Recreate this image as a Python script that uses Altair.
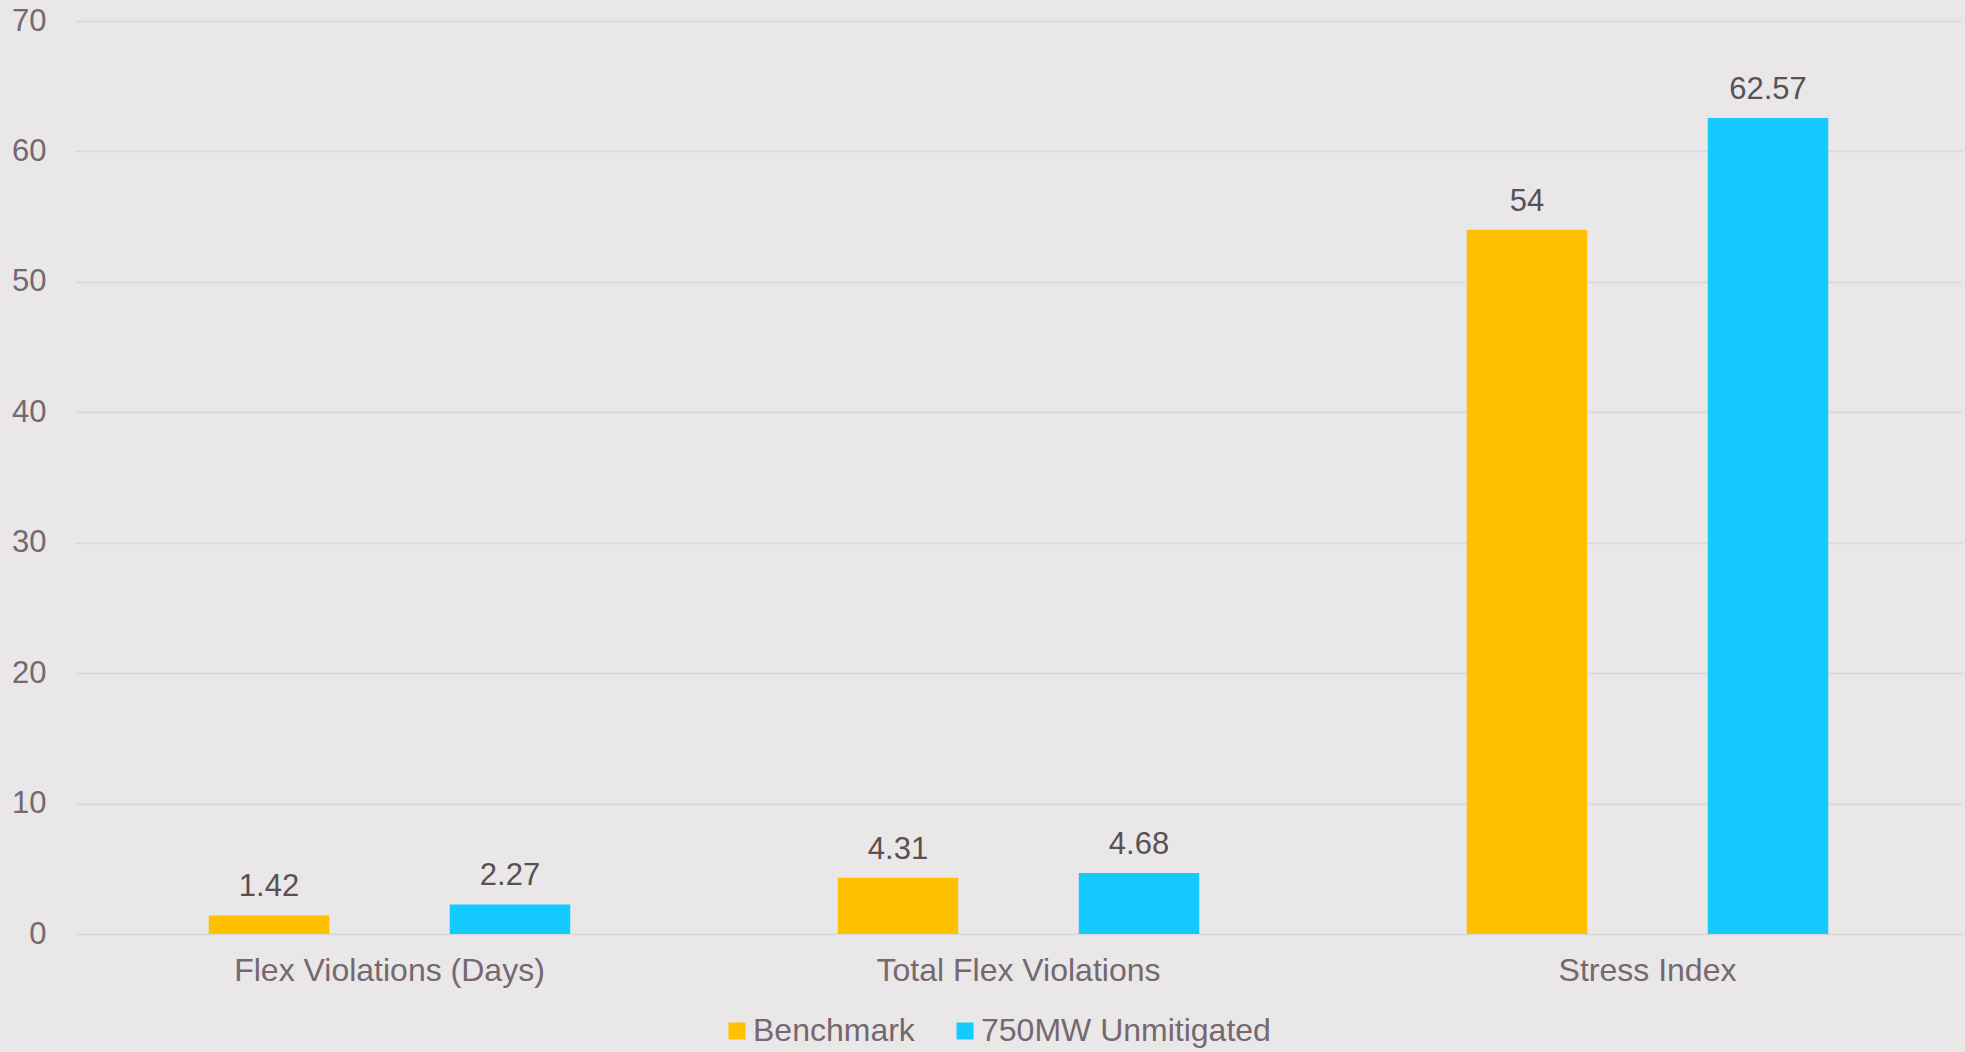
import altair as alt
import pandas as pd

categories = ["Flex Violations (Days)", "Total Flex Violations", "Stress Index"]
series = ["Benchmark", "750MW Unmitigated"]
benchmark = [1.42, 4.31, 54]
unmitigated = [2.27, 4.68, 62.57]
colors = ["#FFC000", "#14CAFF"]
y_ticks = [0, 10, 20, 30, 40, 50, 60, 70]

rows = []
for c, b, u in zip(categories, benchmark, unmitigated):
    rows.append({"category": c, "series": series[0], "value": b})
    rows.append({"category": c, "series": series[1], "value": u})
df = pd.DataFrame(rows)

FONT = "Liberation Sans, Arial"
AXIS_COLOR = "#76686F"
LABEL_COLOR = "#595055"

x_enc = alt.X("category:N", sort=categories,
              scale=alt.Scale(paddingInner=0, paddingOuter=0),
              axis=alt.Axis(title=None, labelAngle=0, domain=False, ticks=False,
                            labelFontSize=32, labelColor=AXIS_COLOR, labelPadding=21,
                            labelFont=FONT, labelLimit=0))
xo_enc = alt.XOffset("series:N", sort=series,
                     scale=alt.Scale(paddingInner=0.5, paddingOuter=0.555))
y_enc = alt.Y("value:Q", scale=alt.Scale(domain=[0, 70], nice=False),
              axis=alt.Axis(title=None, values=y_ticks, domain=False, ticks=False,
                            grid=True, gridColor="#DAD8DA", gridWidth=1.5,
                            labelFontSize=31, labelColor=AXIS_COLOR, labelPadding=29,
                            labelFont=FONT))

bars = alt.Chart(df).mark_bar().encode(
    x=x_enc,
    xOffset=xo_enc,
    y=y_enc,
    color=alt.Color("series:N", sort=series,
                    scale=alt.Scale(domain=series, range=colors),
                    legend=alt.Legend(title=None, orient="none", direction="horizontal",
                                      legendX=646, legendY=994, symbolType="square",
                                      symbolSize=289, symbolStrokeWidth=0,
                                      labelFontSize=32, labelColor=AXIS_COLOR,
                                      labelFont=FONT, labelOffset=0, columnPadding=34,
                                      labelLimit=0, padding=0)),
)

labels = alt.Chart(df).mark_text(baseline="alphabetic", dy=-19, fontSize=31,
                                 font=FONT, color=LABEL_COLOR).encode(
    x=alt.X("category:N", sort=categories),
    xOffset=alt.XOffset("series:N", sort=series),
    y=alt.Y("value:Q"),
    text=alt.Text("value:Q", format="~g"),
)

chart = alt.layer(bars, labels).properties(
    width=1887, height=913,
    autosize=alt.AutoSizeParams(type="none"),
    padding={"left": 75, "top": 21, "right": 3, "bottom": 118},
    background="#E9E7E8",
).configure_view(stroke=None)

chart.save("out.html", embed_options={"renderer": "svg", "actions": False})
